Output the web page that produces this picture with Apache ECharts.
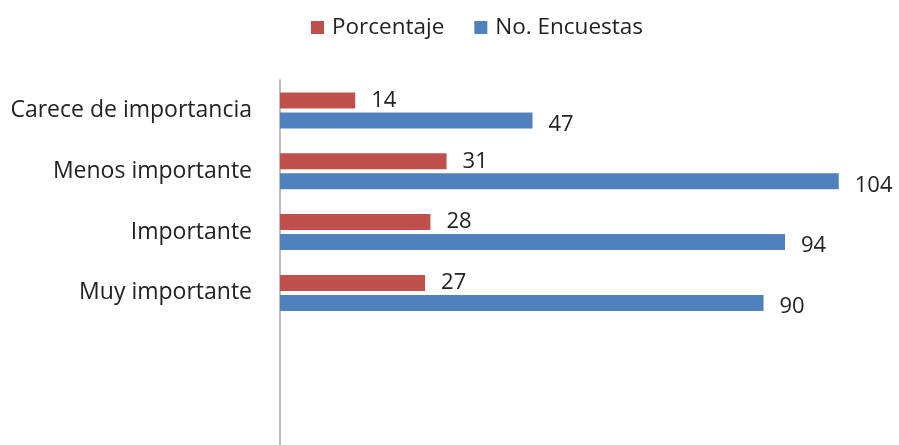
<!DOCTYPE html>
<html>
<head>
<meta charset="utf-8">
<script src="https://cdn.jsdelivr.net/npm/echarts@6/dist/echarts.min.js"></script>
<style>
  html, body { margin: 0; padding: 0; background: #fff; }
  #chart { width: 899px; height: 445px; }
</style>
</head>
<body>
<div id="chart"></div>
<script>
// categories (last two rows are empty in the source chart)
const categories = ['Carece de importancia', 'Menos importante', 'Importante', 'Muy importante', '', '']
const porcentaje = [14, 31, 28, 27, null, null]
const encuestas = [47, 104, 94, 90, null, null]

const font = "'Open Sans', 'Noto Sans', sans-serif"

const chart = echarts.init(document.getElementById('chart'))
chart.setOption({
  animation: false,
  backgroundColor: '#fff',
  legend: {
    top: 11,
    left: 306,
    icon: 'rect',
    itemWidth: 13,
    itemHeight: 13,
    itemGap: 30,
    textStyle: { color: '#222', fontSize: 22.5, fontFamily: font, padding: [0, 0, 0, 3] },
    data: ['Porcentaje', 'No. Encuestas']
  },
  grid: {
    left: 280,
    right: 28,
    top: 80,
    bottom: -7
  },
  xAxis: {
    type: 'value',
    min: 0,
    max: 110,
    show: false
  },
  yAxis: {
    type: 'category',
    inverse: true,
    data: categories,
    axisLine: { show: true, lineStyle: { color: '#a6a6a6', width: 1.5 } },
    axisTick: { show: false },
    axisLabel: { margin: 28, color: '#222', fontSize: 23, fontFamily: font }
  },
  series: [
    {
      name: 'Porcentaje',
      type: 'bar',
      barWidth: 16,
      barGap: '25%',
      itemStyle: { color: '#c0504d' },
      label: { show: true, position: 'right', distance: 16, color: '#222', fontSize: 22, fontFamily: font },
      data: porcentaje
    },
    {
      name: 'No. Encuestas',
      type: 'bar',
      barWidth: 16,
      barGap: '25%',
      itemStyle: { color: '#4f81bd' },
      label: { show: true, position: 'right', distance: 16, color: '#222', fontSize: 22, fontFamily: font, offset: [0, 4] },
      data: encuestas
    }
  ]
})
</script>
</body>
</html>
